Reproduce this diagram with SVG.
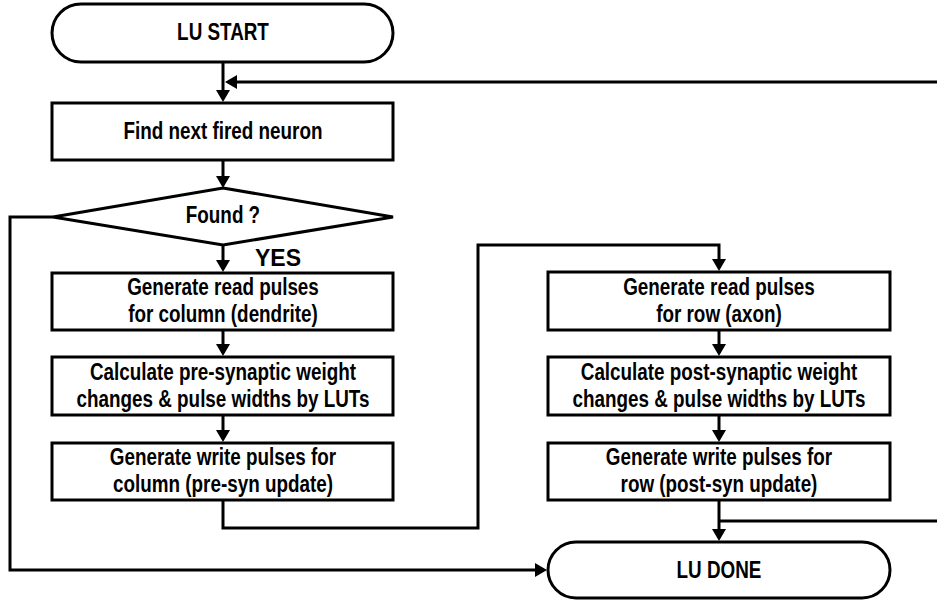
<svg xmlns="http://www.w3.org/2000/svg" width="937" height="602" viewBox="0 0 937 602">
  <style>
    .box { fill: #ffffff; stroke: #000000; stroke-width: 3; }
    .wire { fill: none; stroke: #000000; stroke-width: 3; }
    .lbl { font-family: "Liberation Sans", Arial, sans-serif; font-weight: bold; font-size: 23px; fill: #000000; text-anchor: middle;
           transform-box: fill-box; transform-origin: center; transform: scaleX(0.82); }
    .yes { font-family: "Liberation Sans", Arial, sans-serif; font-weight: bold; font-size: 23px; fill: #000000; }
  </style>
  <defs>
    <marker id="arrow" markerUnits="userSpaceOnUse" markerWidth="12" markerHeight="14" refX="9" refY="7" orient="auto">
      <path d="M0,0 L12,7 L0,14 z" fill="#000000"/>
    </marker>
  </defs>

  <rect width="937" height="602" fill="#ffffff"/>

  <!-- connectors -->
  <g id="connectors">
    <path class="wire" d="M223,62 V99" marker-end="url(#arrow)"/>
    <path class="wire" d="M937,82 H228" marker-end="url(#arrow)"/>
    <path class="wire" d="M223,160 V185" marker-end="url(#arrow)"/>
    <path class="wire" d="M223,245 V269" marker-end="url(#arrow)"/>
    <path class="wire" d="M223,330 V353" marker-end="url(#arrow)"/>
    <path class="wire" d="M223,415 V439" marker-end="url(#arrow)"/>
    <path class="wire" d="M223,500 V528 H478 V245 H719 V268" marker-end="url(#arrow)"/>
    <path class="wire" d="M719,330 V353" marker-end="url(#arrow)"/>
    <path class="wire" d="M719,415 V439" marker-end="url(#arrow)"/>
    <path class="wire" d="M719,500 V538" marker-end="url(#arrow)"/>
    <path class="wire" d="M719,521 H937"/>
    <path class="wire" d="M53,217 H10 V570 H544" marker-end="url(#arrow)"/>
  </g>

  <g id="lu-start">
    <rect class="box" x="52" y="4" width="341" height="58" rx="29" ry="29"/>
    <text class="lbl" x="223" y="40">LU START</text>
  </g>

  <g id="find-next">
    <rect class="box" x="52" y="103" width="341" height="57"/>
    <text class="lbl" x="223" y="139">Find next fired neuron</text>
  </g>

  <g id="found">
    <polygon class="box" points="223,188 393,217 223,245 53,217"/>
    <text class="lbl" x="223" y="223">Found ?</text>
    <text class="yes" x="255" y="266">YES</text>
  </g>

  <g id="read-column">
    <rect class="box" x="52" y="273" width="341" height="57"/>
    <text class="lbl" x="223" y="295">Generate read pulses</text>
    <text class="lbl" x="223" y="322">for column (dendrite)</text>
  </g>

  <g id="calc-pre">
    <rect class="box" x="52" y="357" width="341" height="58"/>
    <text class="lbl" x="223" y="380">Calculate pre-synaptic weight</text>
    <text class="lbl" x="223" y="407">changes &amp; pulse widths by LUTs</text>
  </g>

  <g id="write-column">
    <rect class="box" x="52" y="443" width="341" height="57"/>
    <text class="lbl" x="223" y="465">Generate write pulses for</text>
    <text class="lbl" x="223" y="492">column (pre-syn update)</text>
  </g>

  <g id="read-row">
    <rect class="box" x="548" y="272" width="342" height="58"/>
    <text class="lbl" x="719" y="295">Generate read pulses</text>
    <text class="lbl" x="719" y="322">for row (axon)</text>
  </g>

  <g id="calc-post">
    <rect class="box" x="548" y="357" width="342" height="58"/>
    <text class="lbl" x="719" y="380">Calculate post-synaptic weight</text>
    <text class="lbl" x="719" y="407">changes &amp; pulse widths by LUTs</text>
  </g>

  <g id="write-row">
    <rect class="box" x="548" y="443" width="342" height="57"/>
    <text class="lbl" x="719" y="465">Generate write pulses for</text>
    <text class="lbl" x="719" y="492">row (post-syn update)</text>
  </g>

  <g id="lu-done">
    <rect class="box" x="548" y="542" width="342" height="56" rx="28" ry="28"/>
    <text class="lbl" x="719" y="578">LU DONE</text>
  </g>
</svg>
